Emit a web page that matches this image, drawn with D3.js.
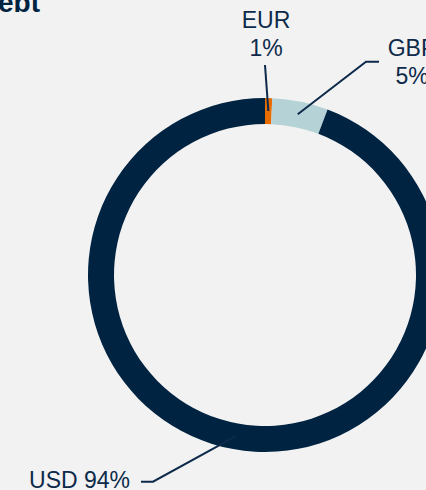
<!DOCTYPE html>
<html lang="en">
<head>
<meta charset="utf-8" />
<title>Debt by currency</title>
<style>
  html, body { margin: 0; padding: 0; background: #f2f2f2; }
  svg { display: block; background: #f2f2f2; }
  .lbl { font: 23px "Liberation Sans", Arial, sans-serif; fill: #0d2a4a; }
  .lead { fill: none; stroke: #0d2a4a; stroke-width: 2; }
</style>
<script src="https://d3js.org/d3.v7.min.js"></script>
</head>
<body>
<svg width="426" height="490"></svg>
<script>
// data
var currencies = ["EUR", "GBP", "USD"];
var shares = [0.65, 5.1, 94.25];
var shareLabels = ["1%", "5%", "94%"];
var colors = ["#e86c00", "#b5d3d6", "#002341"];

var svg = d3.select("svg"),
    cx = 265, cy = 275,
    outerR = 177, innerR = 151;

// title, cut off at the left edge
svg.append("text")
   .attr("x", 40).attr("y", 12)
   .attr("text-anchor", "end")
   .style("font", "bold 28px 'Liberation Sans', Arial, sans-serif")
   .style("fill", "#002341")
   .text("Debt");

var data = currencies.map(function(c, i) {
  return { name: c, value: shares[i], label: shareLabels[i], color: colors[i] };
});

var pie = d3.pie().sort(null).value(function(d) { return d.value; });
var arc = d3.arc().innerRadius(innerR).outerRadius(outerR);
var mid = d3.arc().innerRadius((innerR + outerR) / 2).outerRadius((innerR + outerR) / 2);

var g = svg.append("g").attr("transform", "translate(" + cx + "," + cy + ")");
var slices = pie(data);

g.selectAll("path.slice")
 .data(slices)
 .enter().append("path")
 .attr("class", "slice")
 .attr("d", arc)
 .attr("fill", function(d) { return d.data.color; });

// leader line elbows / label anchors (absolute page coords)
var layout = {
  EUR: { pts: [[265, 65]], text: [[266, 28, "middle", "EUR"], [266, 56, "middle", "1%"]] },
  GBP: { pts: [[366, 61.7], [379, 61.7]], text: [[412, 56, "middle", "GBP"], [412, 84, "middle", "5%"]] },
  USD: { pts: [[153, 481.7], [141, 481.7]], text: [[130, 488, "end", "USD 94%"]] }
};

slices.forEach(function(s) {
  var c = mid.centroid(s);
  var L = layout[s.data.name];
  var line = [[cx + c[0], cy + c[1]]].concat(L.pts);
  svg.append("path")
     .attr("class", "lead")
     .attr("d", d3.line()(line));
  L.text.forEach(function(t) {
    svg.append("text")
       .attr("class", "lbl")
       .attr("x", t[0]).attr("y", t[1])
       .attr("text-anchor", t[2])
       .text(t[3]);
  });
});
</script>
</body>
</html>
